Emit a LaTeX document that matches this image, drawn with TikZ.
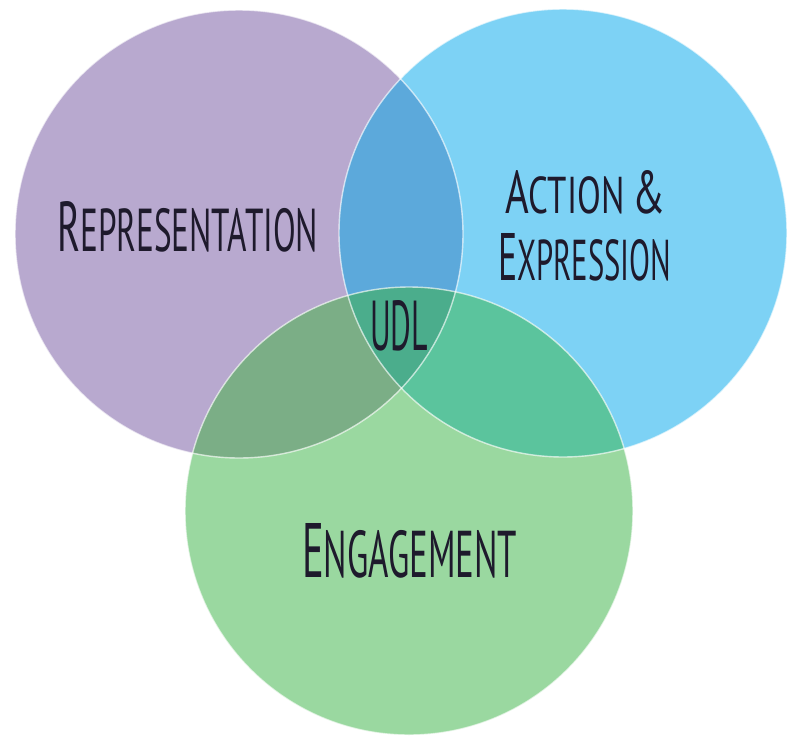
\documentclass[tikz,border=0pt]{standalone}
\usepackage{fontspec}
\setmainfont{PT Sans}
\usepackage{graphicx}
\definecolor{cP}{HTML}{B8A9CF}
\definecolor{cB}{HTML}{7DD2F5}
\definecolor{cG}{HTML}{9AD8A0}
\definecolor{cPB}{HTML}{5CA9DB}
\definecolor{cPG}{HTML}{7BAE86}
\definecolor{cBG}{HTML}{5BC49D}
\definecolor{cPBG}{HTML}{4BAD8C}
\definecolor{ink}{HTML}{1E1A2C}
\newcommand{\mysc}[2]{{\fontsize{14}{14}\selectfont #1}{\fontsize{12}{12}\selectfont #2}}
\begin{document}
\begin{tikzpicture}[x=1pt,y=-1pt,
  ring/.style={draw=white, draw opacity=0.65, line width=1.4pt},
  lbl/.style={inner sep=0pt, anchor=base west, text=ink}]
\useasboundingbox (0,0) rectangle (788,737);
\coordinate (P) at (239,234);
\coordinate (B) at (563,233);
\coordinate (G) at (409,511);
\def\R{224pt}
% base circles
\fill[cP] (P) circle (\R);
\fill[cB] (B) circle (\R);
\fill[cG] (G) circle (\R);
% pairwise overlaps
\begin{scope}
  \clip (P) circle (\R);
  \fill[cPB] (B) circle (\R);
  \fill[cPG] (G) circle (\R);
\end{scope}
\begin{scope}
  \clip (B) circle (\R);
  \fill[cBG] (G) circle (\R);
\end{scope}
% triple overlap
\begin{scope}
  \clip (P) circle (\R);
  \clip (B) circle (\R);
  \fill[cPBG] (G) circle (\R);
\end{scope}
% outlines
\draw[ring] (P) circle (\R);
\draw[ring] (B) circle (\R);
\draw[ring] (G) circle (\R);
% labels
\node[lbl] (rep) at (57,251) {\resizebox{261pt}{50pt}{\mysc{R}{EPRESENTATION}}};
\node[lbl] (act) at (505,213) {\resizebox{160pt}{43pt}{\mysc{A}{CTION} \fontsize{14}{14}\selectfont\&}};
\node[lbl] (exp) at (498,280) {\resizebox{173pt}{47pt}{\mysc{E}{XPRESSION}}};
\node[lbl] (udl) at (370,350) {\resizebox{58pt}{50pt}{\fontsize{14}{14}\selectfont UDL}};
\node[lbl] (eng) at (302,577) {\resizebox{215pt}{54pt}{\mysc{E}{NGAGEMENT}}};
\end{tikzpicture}
\end{document}
